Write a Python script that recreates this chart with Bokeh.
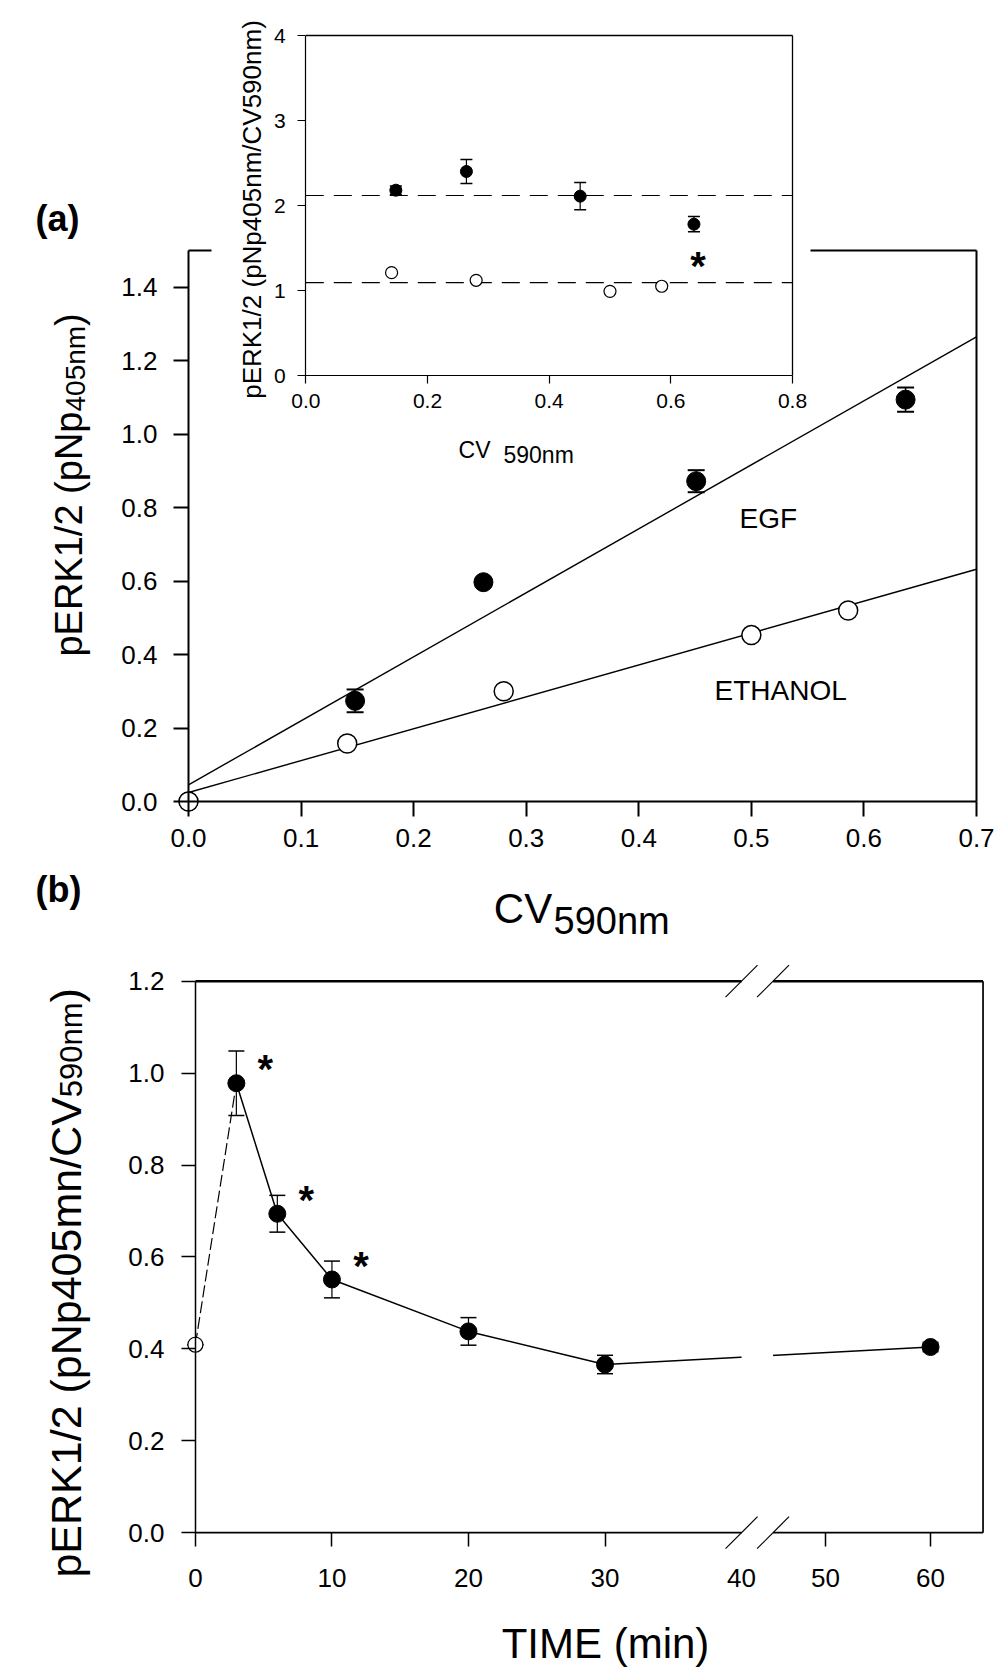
import numpy as np
from bokeh.plotting import figure
from bokeh.models import (Range1d, LinearAxis, FixedTicker, Label, ColumnDataSource,
                          Whisker, TeeHead, PrintfTickFormatter)
from bokeh.layouts import column
from bokeh.core.properties import value
from bokeh.embed import file_html
from bokeh.resources import INLINE

# ---------------- data: panel (a), main plot ----------------
a_egf_cv = [0.0, 0.148, 0.262, 0.451, 0.637]
a_egf_perk = [0.0, 0.274, 0.597, 0.872, 1.094]
a_egf_err = [0.0, 0.031, 0.012, 0.030, 0.033]
a_eth_cv = [0.0, 0.141, 0.280, 0.500, 0.586]
a_eth_perk = [0.0, 0.158, 0.300, 0.453, 0.520]
a_xticks = [0.0, 0.1, 0.2, 0.3, 0.4, 0.5, 0.6, 0.7]
a_yticks = [0.0, 0.2, 0.4, 0.6, 0.8, 1.0, 1.2, 1.4]
a_ymax = 1.5

# ---------------- data: panel (a), inset ----------------
i_egf_cv = [0.148, 0.264, 0.451, 0.638]
i_egf_ratio = [2.18, 2.40, 2.11, 1.78]
i_egf_err = [0.05, 0.14, 0.16, 0.09]
i_eth_cv = [0.141, 0.280, 0.500, 0.585]
i_eth_ratio = [1.21, 1.12, 0.99, 1.05]
i_sig_cv = [0.638]
i_xticks = [0.0, 0.2, 0.4, 0.6, 0.8]
i_yticks = [0, 1, 2, 3, 4]

# ---------------- data: panel (b) ----------------
b_time = [0, 3, 6, 10, 20, 30, 60]
b_ratio = [0.409, 0.978, 0.694, 0.551, 0.438, 0.366, 0.404]
b_err = [0.0, 0.070, 0.040, 0.040, 0.030, 0.020, 0.010]
b_sig_time = [3, 6, 10]
b_xticks = [0, 10, 20, 30, 50, 60]
b_yticks = [0.0, 0.2, 0.4, 0.6, 0.8, 1.0, 1.2]
b_break = (40, 45)
b_tmax = 65

FONT = "Liberation Sans"


class Geo:
    """Linear map between data values and page pixels (layout only)."""
    def __init__(self, v0, p0, v1, p1):
        self.v0, self.p0 = v0, p0
        self.k = (p1 - p0) / (v1 - v0)

    def val(self, p):
        return self.v0 + (p - self.p0) / self.k

    def px(self, v):
        return self.p0 + (v - self.v0) * self.k


W = 1004
HA, HB = 945, 731


def style_axis(ax, fs, standoff, tick_out, lw, font=FONT):
    ax.major_label_text_font = font
    ax.major_label_text_font_size = f"{fs}px"
    ax.major_label_text_color = "black"
    ax.major_label_standoff = standoff
    ax.major_tick_out = tick_out
    ax.major_tick_in = 0
    ax.minor_tick_out = 0
    ax.minor_tick_in = 0
    ax.major_tick_line_width = lw
    ax.major_tick_line_color = "black"
    ax.axis_line_width = lw
    ax.axis_line_color = "black"


def lab(p, x, y, text, size, align="left", baseline="middle", angle=0.0,
        bold=False, font=FONT, xr="default", yr="default"):
    p.add_layout(Label(x=x, y=y, text=text, text_font=font, text_font_size=f"{size}px",
                       text_align=align, text_baseline=baseline, angle=angle,
                       text_color="black", text_font_style="bold" if bold else "normal",
                       x_range_name=xr, y_range_name=yr))


def make_fig(h, gx, gy, top):
    p = figure(width=W, height=h, output_backend="svg", toolbar_location=None,
               x_range=Range1d(gx.val(0), gx.val(W)),
               y_range=Range1d(gy.val(top + h), gy.val(top)),
               x_axis_type=None, y_axis_type=None,
               min_border_left=0, min_border_right=0, min_border_top=0, min_border_bottom=0)
    p.outline_line_color = None
    p.background_fill_color = "white"
    p.border_fill_color = "white"
    return p


# ======================= panel (a) =======================
AX = Geo(0.0, 188.0, 0.7, 976.0)
AY = Geo(0.0, 801.0, 1.5, 250.0)
IX = Geo(0.0, 305.3, 0.8, 792.0)
IY = Geo(0.0, 375.0, 4.0, 35.0)

pa = make_fig(HA, AX, AY, 0)
pa.extra_x_ranges = {"ix": Range1d(IX.val(0), IX.val(W))}
pa.extra_y_ranges = {"iy": Range1d(IY.val(HA), IY.val(0))}

a_xmax = a_xticks[-1]
xa = LinearAxis(ticker=FixedTicker(ticks=a_xticks), formatter=PrintfTickFormatter(format="%.1f"),
                fixed_location=0, bounds=(0, a_xmax))
style_axis(xa, 26, 12, 15, 2)
pa.add_layout(xa, "below")
ya = LinearAxis(ticker=FixedTicker(ticks=a_yticks), formatter=PrintfTickFormatter(format="%.1f"),
                fixed_location=0, bounds=(0, a_ymax))
style_axis(ya, 26, 16, 15, 2)
pa.add_layout(ya, "left")

# frame: right border and the parts of the top border not hidden by the inset
pa.segment(x0=[a_xmax], y0=[0], x1=[a_xmax], y1=[a_ymax], line_color="black", line_width=2)
pa.segment(x0=[0, AX.val(810)], y0=[a_ymax, a_ymax], x1=[AX.val(211), a_xmax], y1=[a_ymax, a_ymax],
           line_color="black", line_width=2)

# regression lines
fit_x = np.array([0.0, a_xmax])
egf_fit = np.polyfit(a_egf_cv, a_egf_perk, 1)
eth_fit = np.polyfit(a_eth_cv, a_eth_perk, 1)
pa.line(fit_x, np.polyval(egf_fit, fit_x), line_color="black", line_width=1.4)
pa.line(fit_x, np.polyval(eth_fit, fit_x), line_color="black", line_width=1.4)

src_a = ColumnDataSource(dict(x=a_egf_cv, up=np.add(a_egf_perk, a_egf_err),
                              lo=np.subtract(a_egf_perk, a_egf_err)))
pa.add_layout(Whisker(source=src_a, base="x", upper="up", lower="lo", line_color="black",
                      line_width=1.5, level="underlay",
                      upper_head=TeeHead(size=17, line_width=2, line_color="black"),
                      lower_head=TeeHead(size=17, line_width=2, line_color="black")))
pa.scatter(a_egf_cv, a_egf_perk, size=19, marker="circle", fill_color="black", line_color="black")
pa.scatter(a_eth_cv, a_eth_perk, size=19, marker="circle", fill_color="white",
           line_color="black", line_width=1.5)

lab(pa, AX.val(739), AY.val(518), "EGF", 28)
lab(pa, AX.val(714), AY.val(690), "ETHANOL", 28)

# y title (with subscript), rotated
F1, S1 = 38, 28
j1 = 656 - 6.447 * F1
lab(pa, AX.val(68), AY.val(j1), "pERK1/2 (pNp", F1, align="right", angle=np.pi / 2)
lab(pa, AX.val(75), AY.val(j1), "405nm", S1, align="left", angle=np.pi / 2)
lab(pa, AX.val(68), AY.val(j1 - 3.057 * S1), ")", F1, align="left", angle=np.pi / 2)
# x title
lab(pa, AX.val(551.7), AY.val(908), "CV", 42, align="right")
lab(pa, AX.val(553), AY.val(920), "590nm", 38, align="left")
# panel letters
lab(pa, AX.val(35), AY.val(218), "(a)", 36, bold=True)
lab(pa, AX.val(35), AY.val(889), "(b)", 36, bold=True)

# ---------------- inset ----------------
i_xmax, i_ymax = i_xticks[-1], i_yticks[-1]
xi = LinearAxis(x_range_name="ix", y_range_name="iy", ticker=FixedTicker(ticks=i_xticks),
                formatter=PrintfTickFormatter(format="%.1f"), fixed_location=0, bounds=(0, i_xmax))
style_axis(xi, 21, 10, 8, 1.2)
pa.add_layout(xi, "below")
yi = LinearAxis(x_range_name="ix", y_range_name="iy", ticker=FixedTicker(ticks=i_yticks),
                formatter=PrintfTickFormatter(format="%d"), fixed_location=0, bounds=(0, i_ymax))
style_axis(yi, 21, 12, 8, 1.2)
pa.add_layout(yi, "left")
pa.segment(x0=[0, i_xmax], y0=[i_ymax, 0], x1=[i_xmax, i_xmax], y1=[i_ymax, i_ymax],
           line_color="black", line_width=1.3, x_range_name="ix", y_range_name="iy")
means = [float(np.mean(i_egf_ratio)), float(np.mean(i_eth_ratio))]
pa.segment(x0=[0, 0], y0=means, x1=[i_xmax, i_xmax], y1=means, line_color="black",
           line_width=1.2, line_dash="18 10", x_range_name="ix", y_range_name="iy")
src_i = ColumnDataSource(dict(x=i_egf_cv, up=np.add(i_egf_ratio, i_egf_err),
                              lo=np.subtract(i_egf_ratio, i_egf_err)))
pa.add_layout(Whisker(source=src_i, base="x", upper="up", lower="lo", line_color="black",
                      line_width=1.2, level="underlay", x_range_name="ix", y_range_name="iy",
                      upper_head=TeeHead(size=12, line_width=1.5, line_color="black"),
                      lower_head=TeeHead(size=12, line_width=1.5, line_color="black")))
pa.scatter(i_egf_cv, i_egf_ratio, size=12, marker="circle", fill_color="black",
           line_color="black", x_range_name="ix", y_range_name="iy")
pa.scatter(i_eth_cv, i_eth_ratio, size=12, marker="circle", fill_color="white",
           line_color="black", line_width=1.2, x_range_name="ix", y_range_name="iy")
STAR = 40
i_star_y = [IY.val(IY.px(i_egf_ratio[i_egf_cv.index(c)]) + 33 + 0.23 * STAR) for c in i_sig_cv]
i_star_x = [IX.val(IX.px(c) + 4) for c in i_sig_cv]
pa.text(x=i_star_x, y=i_star_y, text=["*"] * len(i_sig_cv), text_font=value(FONT),
        text_font_size=f"{STAR}px", text_font_style="bold", text_align="center",
        text_baseline="middle", x_range_name="ix", y_range_name="iy")
lab(pa, IX.val(251), IY.val(209), "pERK1/2 (pNp405nm/CV590nm)", 26, align="center",
    angle=np.pi / 2, xr="ix", yr="iy")
lab(pa, IX.val(490), IY.val(449), "CV", 23, align="right", xr="ix", yr="iy")
lab(pa, IX.val(503), IY.val(454.5), "590nm", 23, align="left", xr="ix", yr="iy")

# ======================= panel (b) =======================
BTOP = HA
BX = Geo(0.0, 194.9, 30.0, 604.5)
BY = Geo(0.0, 1532.2, 1.2, 980.7)
RIGHT_PX_PER_MIN = 10.5
GAP_PX = 31.5
R_SCALE = RIGHT_PX_PER_MIN / BX.k
GAP_U = GAP_PX / BX.k


def u_of(t):
    lo, hi = b_break
    if t <= lo:
        return float(t)
    return lo + GAP_U + (t - hi) * R_SCALE


pb = make_fig(HB, BX, BY, BTOP)

b_ymax = b_yticks[-1]
xb_ticks = [u_of(t) for t in b_xticks]
xb = LinearAxis(ticker=FixedTicker(ticks=xb_ticks), fixed_location=0,
                major_label_overrides={u: str(t) for u, t in zip(xb_ticks, b_xticks)})
style_axis(xb, 26, 22, 14, 1.5)
xb.axis_line_color = None
pb.add_layout(xb, "below")
xb2 = LinearAxis(ticker=FixedTicker(ticks=[u_of(b_break[0])]), fixed_location=0,
                 major_label_overrides={u_of(b_break[0]): str(b_break[0])})
style_axis(xb2, 26, 22, 14, 1.5)
xb2.axis_line_color = None
xb2.major_tick_line_color = None
pb.add_layout(xb2, "below")
yb = LinearAxis(ticker=FixedTicker(ticks=b_yticks), formatter=PrintfTickFormatter(format="%.1f"),
                fixed_location=0, bounds=(0, b_ymax))
style_axis(yb, 26, 17, 14, 1.5)
pb.add_layout(yb, "left")

u_end = u_of(b_tmax)
pb.segment(x0=[0, 0, u_end], y0=[0, b_ymax, 0], x1=[u_end, u_end, u_end], y1=[0, b_ymax, b_ymax],
           line_color="black", line_width=[1.7, 2.5, 1.7])

bu = [u_of(t) for t in b_time]
pb.line(bu[:2], b_ratio[:2], line_color="black", line_width=1.2, line_dash="12 4")
pb.line(bu[1:], b_ratio[1:], line_color="black", line_width=1.5)

# axis break: white gap + slashes
g0, g1 = u_of(b_break[0]), u_of(b_break[1])
pad = 6 / abs(BY.k)
pb.quad(left=[g0], right=[g1], bottom=[-pad], top=[b_ymax + pad],
        fill_color="white", line_color=None)
hw, hh = 16 / BX.k, 16 / abs(BY.k)
sx = [g0, g1, g0, g1]
sy = [0, 0, b_ymax, b_ymax]
pb.segment(x0=[x - hw for x in sx], y0=[y - hh for y in sy], x1=[x + hw for x in sx],
           y1=[y + hh for y in sy], line_color="black", line_width=1.2)

src_b = ColumnDataSource(dict(x=bu, up=np.add(b_ratio, b_err), lo=np.subtract(b_ratio, b_err)))
pb.add_layout(Whisker(source=src_b, base="x", upper="up", lower="lo", line_color="black",
                      line_width=1.2, level="underlay",
                      upper_head=TeeHead(size=16, line_width=1.5, line_color="black"),
                      lower_head=TeeHead(size=16, line_width=1.5, line_color="black")))
ctrl = [i for i, t in enumerate(b_time) if t == 0]
trt = [i for i, t in enumerate(b_time) if t != 0]
pb.scatter([bu[i] for i in trt], [b_ratio[i] for i in trt], size=17, marker="circle",
           fill_color="black", line_color="black")
pb.scatter([bu[i] for i in ctrl], [b_ratio[i] for i in ctrl], size=15, marker="circle",
           fill_color="white", line_color="black", line_width=1.2)
b_star_x = [BX.val(BX.px(u_of(t)) + 29) for t in b_sig_time]
b_star_y = [BY.val(BY.px(b_ratio[b_time.index(t)]) - 23 + 0.23 * STAR) for t in b_sig_time]
pb.text(x=b_star_x, y=b_star_y, text=["*"] * len(b_sig_time), text_font=value(FONT),
        text_font_size=f"{STAR}px", text_font_style="bold", text_align="center",
        text_baseline="middle")

F2, S2 = 43, 31
j2 = 1577 - 11.171 * F2
lab(pb, BX.val(65), BY.val(j2), "pERK1/2 (pNp405mn/CV", F2, align="right", angle=np.pi / 2)
lab(pb, BX.val(71), BY.val(j2), "590nm", S2, align="left", angle=np.pi / 2)
lab(pb, BX.val(65), BY.val(j2 - 3.057 * S2), ")", F2, align="left", angle=np.pi / 2)
lab(pb, BX.val(605), BY.val(1643), "TIME (min)", 42, align="center")

layout = column(pa, pb)
open("out.html", "w").write(file_html(layout, INLINE, "pERK1/2"))
